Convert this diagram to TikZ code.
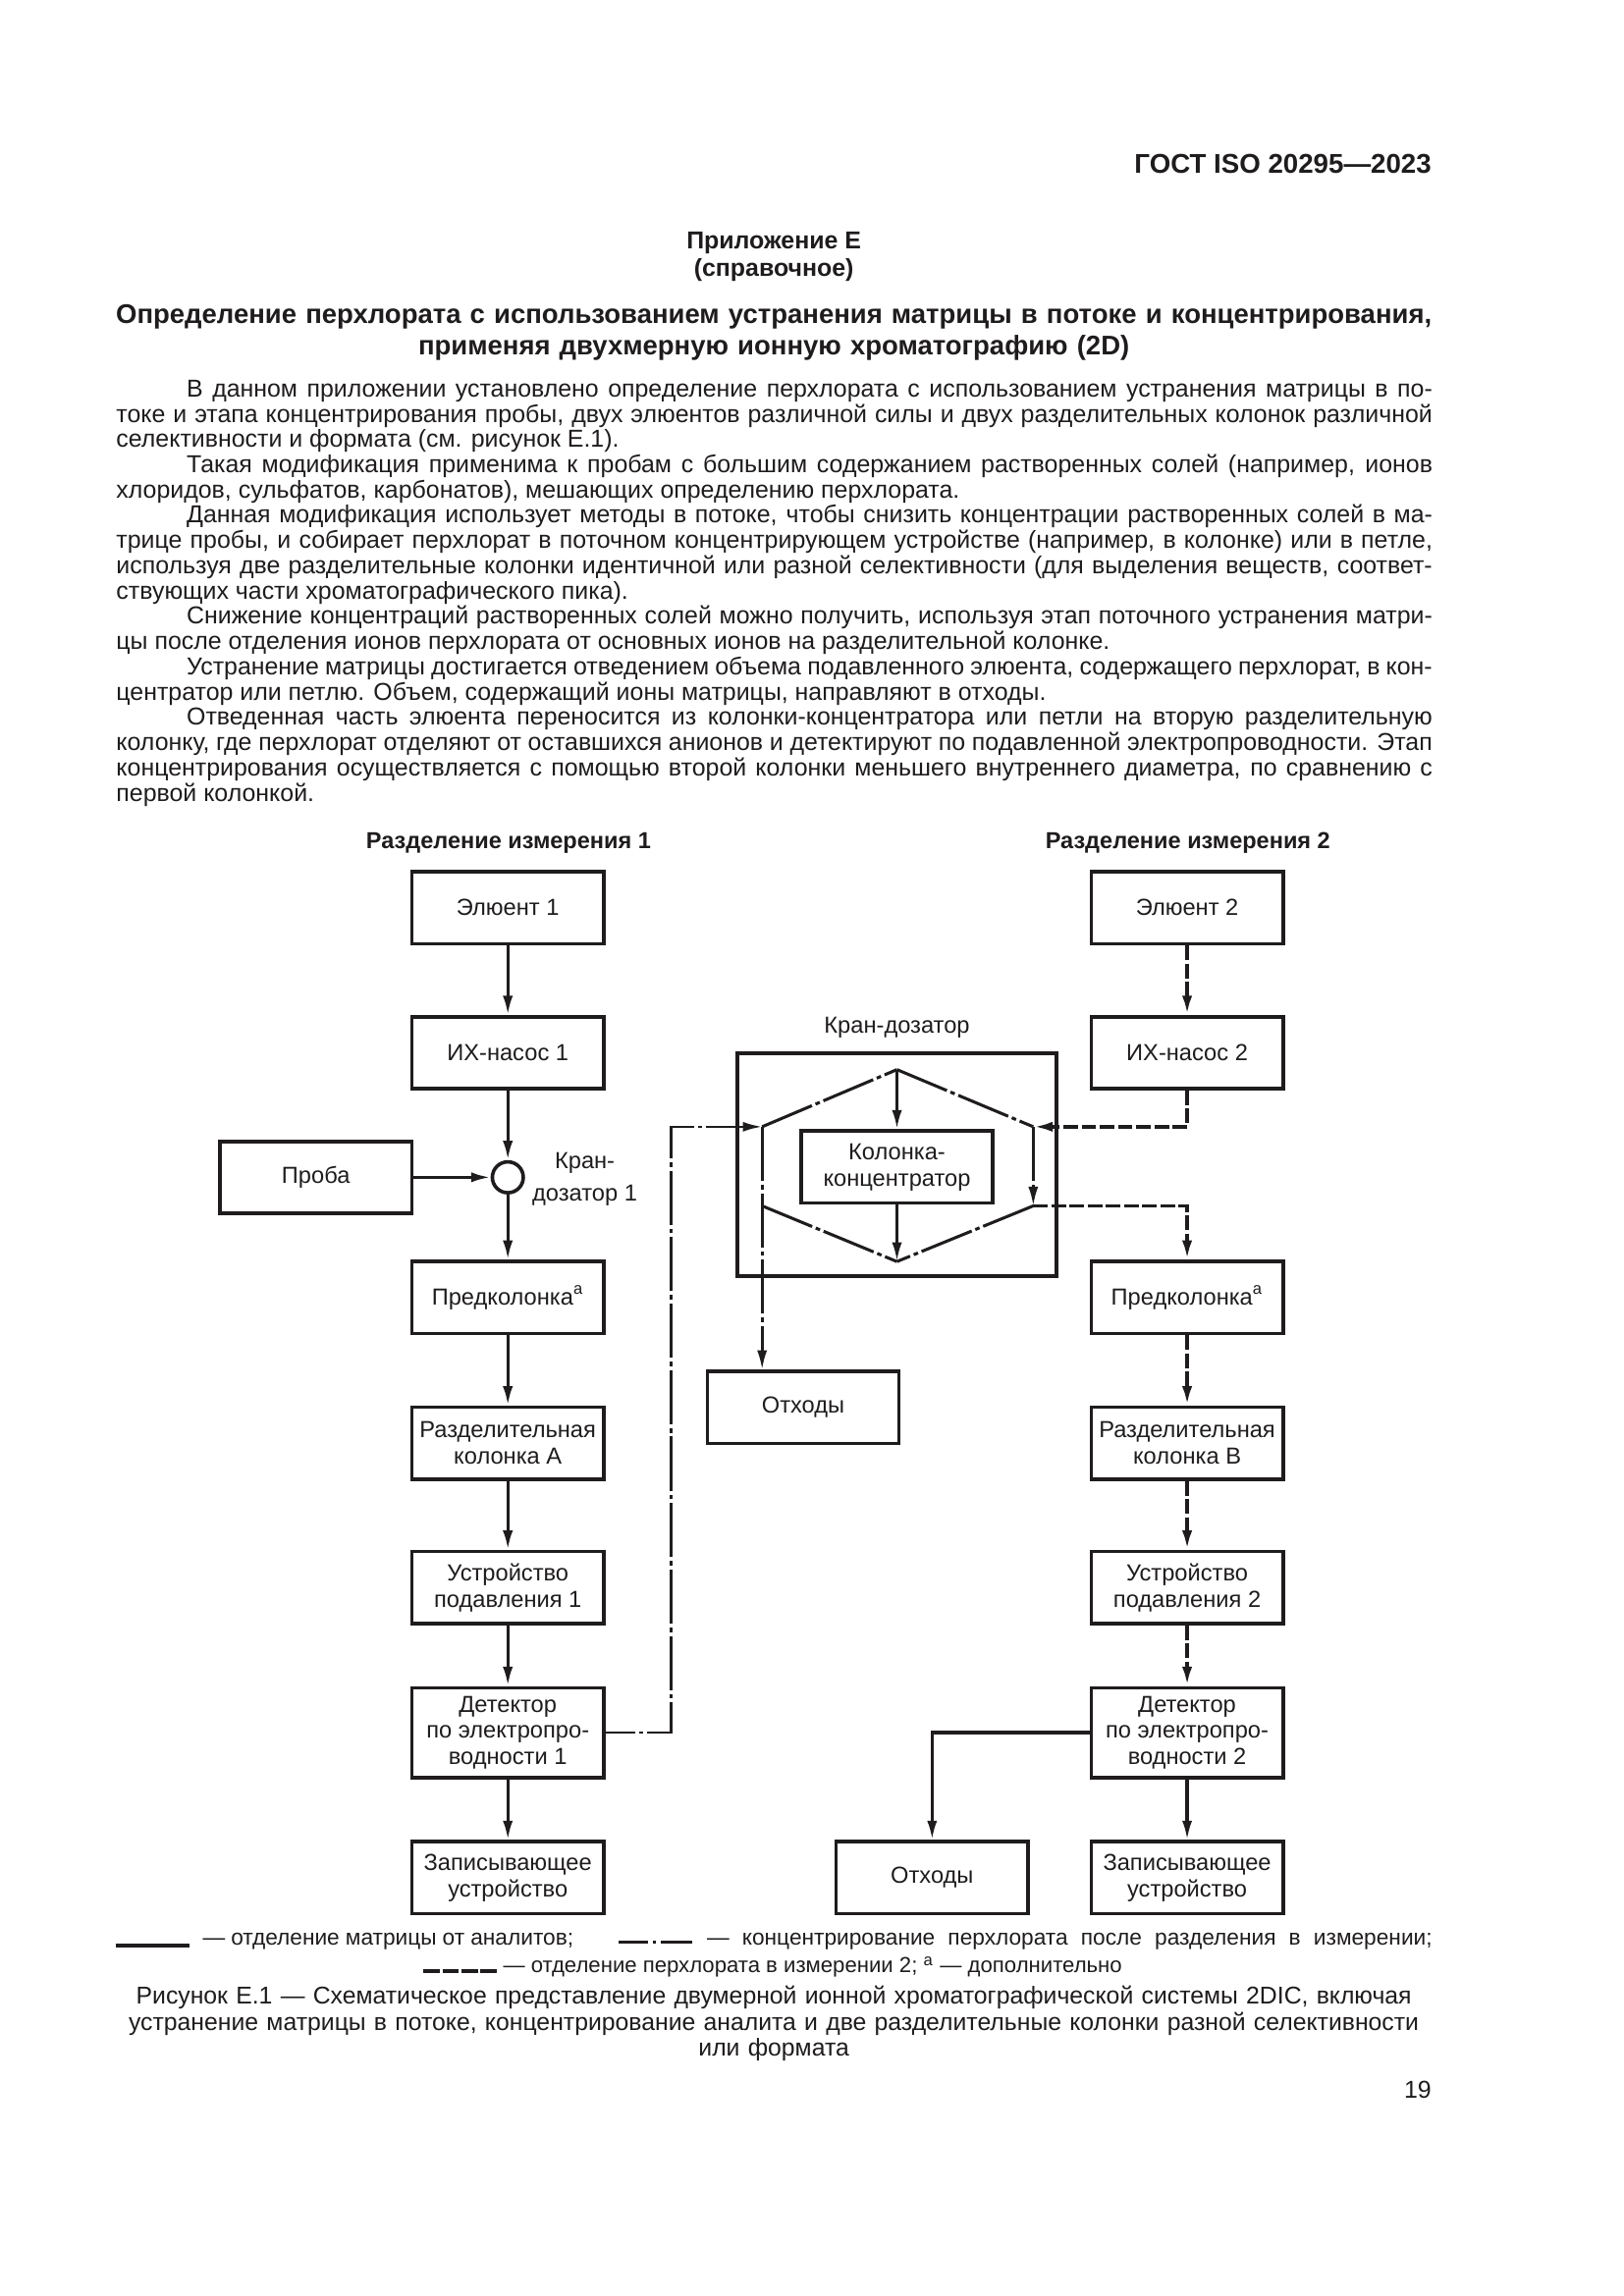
\documentclass[tikz,border=0pt]{standalone}
\usepackage{fontspec}
\setmainfont{Liberation Sans}
\usetikzlibrary{arrows.meta}
\definecolor{ink}{HTML}{1F1C1D}
\begin{document}
\begin{tikzpicture}[x=.18953mm,y=-.18953mm,text=ink,
  blockbox/.style={draw=ink,line width=1.3pt,minimum width=24.8mm,minimum height=9.3mm,inner sep=0pt,align=center,font=\fontsize{8.55}{9.7}\selectfont},
  tallbox/.style={blockbox,minimum height=11.6mm},
  solidflow/.style={draw=ink,line width=1.15pt,-{Latex[length=2.5mm,width=1.3mm]}},
  dotflow/.style={draw=ink,line width=.95pt,dash pattern=on 7mm off .5mm on .6mm off .5mm,-{Latex[length=2.5mm,width=1.3mm]}},
  dashflow/.style={draw=ink,line width=1.35pt,dash pattern=on 1.9mm off .45mm,-{Latex[length=2.5mm,width=1.3mm]}},
  hexside/.style={draw=ink,line width=1.1pt,dash pattern=on 7mm off .5mm on .6mm off .5mm},
  plain/.style={font=\fontsize{8.55}{9.7}\selectfont,inner sep=0pt},
  boldtext/.style={font=\fontsize{9}{10}\selectfont\bfseries,inner sep=0pt},
  headtext/.style={font=\fontsize{8.5}{10}\selectfont\bfseries,inner sep=0pt},
  keytext/.style={font=\fontsize{8.2}{9.7}\selectfont,inner sep=0pt,anchor=west}]
\path[use as bounding box,fill=white] (0,0) rectangle (1108,1567);
% page text
\node[anchor=east,inner sep=0pt,font=\fontsize{10}{11}\selectfont\bfseries] (hdr) at (977,112) {ГОСТ ISO 20295—2023};
\node[boldtext] (app) at (528,165.5) {Приложение Е};
\node[boldtext] (appb) at (528,184.5) {(справочное)};
\node[inner sep=0pt,text width=176mm,align=center,font=\fontsize{9.93}{11.3}\selectfont\bfseries] (ttl) at (528,227) {Определение перхлората с использованием устранения матрицы в потоке и концентрирования,\\ применяя двухмерную ионную хроматографию (2D)};
\node[anchor=north west,inner sep=0pt,text width=170.2mm,align=justify,font=\fontsize{9}{9.3}\selectfont] (body) at (79,259) {%
\hspace*{9.1mm}В данном приложении установлено определение перхлората с использованием устранения матрицы в по-\linebreak
токе и этапа концентрирования пробы, двух элюентов различной силы и двух разделительных колонок различной\linebreak
селективности и формата (см. рисунок Е.1).\\
\hspace*{9.1mm}Такая модификация применима к пробам с большим содержанием растворенных солей (например, ионов\linebreak
хлоридов, сульфатов, карбонатов), мешающих определению перхлората.\\
\hspace*{9.1mm}Данная модификация использует методы в потоке, чтобы снизить концентрации растворенных солей в ма-\linebreak
трице пробы, и собирает перхлорат в поточном концентрирующем устройстве (например, в колонке) или в петле,\linebreak
используя две разделительные колонки идентичной или разной селективности (для выделения веществ, соответ-\linebreak
ствующих части хроматографического пика).\\
\hspace*{9.1mm}Снижение концентраций растворенных солей можно получить, используя этап поточного устранения матри-\linebreak
цы после отделения ионов перхлората от основных ионов на разделительной колонке.\\
\hspace*{9.1mm}Устранение матрицы достигается отведением объема подавленного элюента, содержащего перхлорат, в кон-\linebreak
центратор или петлю. Объем, содержащий ионы матрицы, направляют в отходы.\\
\hspace*{9.1mm}Отведенная часть элюента переносится из колонки-концентратора или петли на вторую разделительную\linebreak
колонку, где перхлорат отделяют от оставшихся анионов и детектируют по подавленной электропроводности. Этап\linebreak
концентрирования осуществляется с помощью второй колонки меньшего внутреннего диаметра, по сравнению с\linebreak
первой колонкой.};
% left column
\node[headtext] (headA) at (347,575.5) {Разделение измерения 1};
\node[blockbox] (elu1) at (346.5,619.5) {Элюент 1};
\node[blockbox] (pump1) at (346.5,718.5) {ИХ-насос 1};
\node[blockbox] (samp) at (215.5,803.5) {Проба};
\node[circle,draw=ink,line width=1.3pt,fill=white,minimum size=4mm,inner sep=0pt] (valve1) at (346.5,803.5) {};
\node[plain,align=center] (valvetxt) at (399,805) {Кран-\\[2.1pt]дозатор 1};
\node[blockbox] (precol1) at (346.5,885.5) {Предколонка\textsuperscript{а}};
\node[blockbox] (sepA) at (346.5,985) {Разделительная\\колонка А};
\node[blockbox] (supp1) at (346.5,1083.5) {Устройство\\подавления 1};
\node[tallbox] (det1) at (346.5,1182.5) {Детектор\\по электропро-\\водности 1};
\node[blockbox] (rec1) at (346.5,1281.5) {Записывающее\\устройство};
% right column
\node[headtext] (headB) at (810.5,575.5) {Разделение измерения 2};
\node[blockbox] (elu2) at (810,619.5) {Элюент 2};
\node[blockbox] (pump2) at (810,718.5) {ИХ-насос 2};
\node[blockbox] (precol2) at (810,885.5) {Предколонка\textsuperscript{а}};
\node[blockbox] (sepB) at (810,985) {Разделительная\\колонка В};
\node[blockbox] (supp2) at (810,1083.5) {Устройство\\подавления 2};
\node[tallbox] (det2) at (810,1182.5) {Детектор\\по электропро-\\водности 2};
\node[blockbox] (rec2) at (810,1281.5) {Записывающее\\устройство};
\node[blockbox] (waste2) at (636,1281.5) {Отходы};
% valve
\node[plain] (valvehead) at (612,701) {Кран-дозатор};
\node[blockbox,minimum width=41.3mm,minimum height=28.8mm] (valvebox) at (612,795) {};
\node[blockbox] (conc) at (612,796.5) {Колонка-\\концентратор};
\node[blockbox] (waste1) at (548,960.5) {Отходы};
\coordinate (hexT) at (612,730);
\coordinate (hexUL) at (520,769);
\coordinate (hexLL) at (520,823);
\coordinate (hexB) at (612,861);
\coordinate (hexLR) at (705,823);
\coordinate (hexUR) at (705,769);
\coordinate (busA) at (458,1182.5);
\draw[hexside] (hexUL) -- (hexT);
\draw[hexside] (hexT) -- (hexUR);
\draw[hexside] (hexLL) -- (hexB);
\draw[hexside] (hexLR) -- (hexB);
\draw[solidflow] (hexT) -- (conc);
\draw[solidflow] (conc) -- (hexB);
\draw[dotflow] (hexUR) -- (hexLR);
\draw[dotflow] (hexUL) -- (hexUL |- waste1.north);
\draw[dotflow,dash phase=3.2mm] (det1) -- (busA) |- (hexUL);
\draw[dashflow] (pump2) |- (hexUR);
\draw[dashflow] (hexLR) -| (precol2);
% connectors
\draw[solidflow] (elu1) -- (pump1);
\draw[solidflow] (pump1) -- (valve1);
\draw[solidflow] (samp) -- (valve1);
\draw[solidflow] (valve1) -- (precol1);
\draw[solidflow] (precol1) -- (sepA);
\draw[solidflow] (sepA) -- (supp1);
\draw[solidflow] (supp1) -- (det1);
\draw[solidflow] (det1) -- (rec1);
\draw[dashflow] (elu2) -- (pump2);
\draw[dashflow] (precol2) -- (sepB);
\draw[dashflow] (sepB) -- (supp2);
\draw[dashflow] (supp2) -- (det2);
\draw[solidflow] (det2) -- (rec2);
\draw[solidflow] (det2) -| (waste2);
% legend
\coordinate (keyAa) at (79,1328);
\coordinate (keyAb) at (129,1328);
\coordinate (keyBa) at (422,1325.5);
\coordinate (keyBb) at (472,1325.5);
\coordinate (keyCa) at (289,1345);
\coordinate (keyCb) at (339,1345);
\draw[draw=ink,line width=1.3pt] (keyAa) -- (keyAb);
\draw[draw=ink,line width=1.3pt,dash pattern=on 3.85mm off .6mm on .4mm off .6mm on 4.1mm off 1mm] (keyBa) -- (keyBb);
\draw[draw=ink,line width=1.4pt,dash pattern=on 2.1mm off .35mm] (keyCa) -- (keyCb);
\node[keytext] (keyAt) at (138,1325) {\hbox to 47.95mm{— отделение матрицы от аналитов;}};
\node[keytext] (keyBt) at (482,1325) {\hbox to 93.8mm{— концентрирование перхлората после разделения в измерении;}};
\node[keytext,font=\fontsize{8}{9.7}\selectfont] (keyCt) at (343,1342.5) {— отделение перхлората в измерении 2; \textsuperscript{а} — дополнительно};
\node[inner sep=0pt,text width=176mm,align=center,font=\fontsize{8.95}{9.5}\selectfont] (capt) at (528,1381) {Рисунок Е.1 — Схематическое представление двумерной ионной хроматографической системы 2DIC, включая\\ устранение матрицы в потоке, концентрирование аналита и две разделительные колонки разной селективности\\ или формата};
\node[anchor=east,inner sep=0pt,font=\fontsize{9}{10}\selectfont] (pageno) at (977,1426) {19};
\end{tikzpicture}
\end{document}
